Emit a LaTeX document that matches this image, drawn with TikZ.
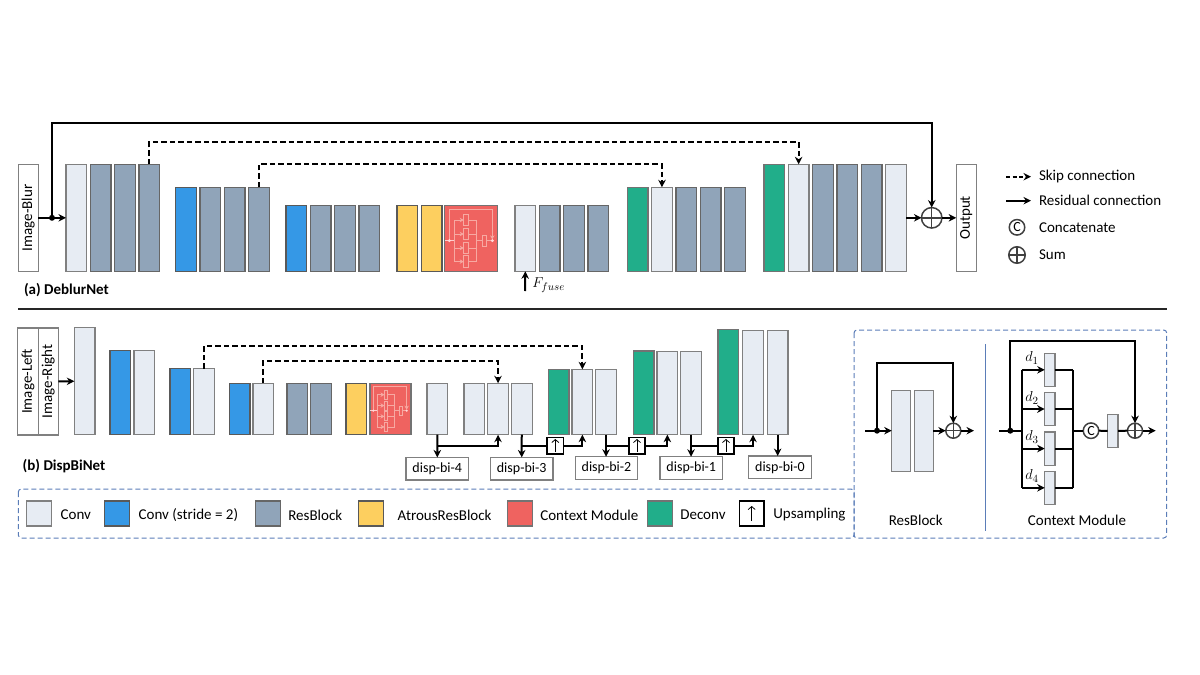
\documentclass[tikz,border=0pt]{standalone}
\usepackage{amsmath}
\usepackage{fontspec}
\setmainfont{Carlito}
\usetikzlibrary{positioning, arrows.meta}

\definecolor{convfill}{HTML}{E7ECF3}
\definecolor{convline}{HTML}{808080}
\definecolor{bluefill}{HTML}{3598E6}
\definecolor{resfill}{HTML}{90A4B9}
\definecolor{yellowfill}{HTML}{FDCF5F}
\definecolor{redfill}{HTML}{EF6360}
\definecolor{greenfill}{HTML}{21AE8A}
\definecolor{panelline}{HTML}{5B7DB8}
\definecolor{minline}{HTML}{F7A9A2}

% small drawing of the context module, inside the red blocks
\newcommand{\ctxsketch}{
\draw[minline,line width=.7pt,-{Stealth[length=4pt,width=4.5pt]}] (4.3,35.3) -- (4.3,4.3) -- (47.3,4.3) -- (47.3,34);
\draw[white!80!red,line width=1pt] (0,35.3) -- (9,35.3);
\draw[minline,line width=.7pt] (9,14.7) -- (9,56.3);
\draw[minline,line width=.7pt,-{Stealth[length=4pt,width=4.5pt]}] (9,14.7) -- (18.7,14.7);
\draw[minline,line width=.7pt,-{Stealth[length=4pt,width=4.5pt]}] (9,28.7) -- (18.7,28.7);
\draw[minline,line width=.7pt,-{Stealth[length=4pt,width=4.5pt]}] (9,42.7) -- (18.7,42.7);
\draw[minline,line width=.7pt,-{Stealth[length=4pt,width=4.5pt]}] (9,56.3) -- (18.7,56.3);
\draw[minline,line width=.7pt] (18.7,8.7) rectangle (23,20.3);
\draw[minline,line width=.7pt] (18.7,22.7) rectangle (23,34.3);
\draw[minline,line width=.7pt] (18.7,36.7) rectangle (23,48.3);
\draw[minline,line width=.7pt] (18.7,50.3) rectangle (23,62);
\draw[minline,line width=.7pt] (23,14.7) -- (31.7,14.7) -- (31.7,56.3) -- (23,56.3);
\draw[minline,line width=.7pt] (23,28.7) -- (31.7,28.7);
\draw[minline,line width=.7pt] (23,42.7) -- (31.7,42.7);
\draw[minline,line width=.7pt] (31.7,35.3) -- (37.3,35.3);
\draw[minline,line width=.7pt] (37.3,30) rectangle (41.3,41.3);
\draw[minline,line width=.7pt] (41.3,35.3) -- (47.3,35.3);
\fill[white!85!red] (4.3,35.3) circle (1.6);
\fill[white!85!red] (47.3,35.3) circle (1.6);
}

\begin{document}
\begin{tikzpicture}[x=1pt, y=-1pt, >={Stealth[length=7.5pt,width=7.5pt]}, node distance=3.6pt]
\tikzstyle{every node}=[font=\fontsize{15}{17}\selectfont, outer sep=0pt]
\tikzstyle{block}=[draw=convline, line width=1.2pt, anchor=south west, minimum width=20.7pt, inner sep=0pt]
\tikzstyle{conv}=[block, fill=convfill]
\tikzstyle{bluec}=[block, fill=bluefill, draw=black!65]
\tikzstyle{resb}=[block, fill=resfill, draw=black!60]
\tikzstyle{yell}=[block, fill=yellowfill, draw=black!65]
\tikzstyle{ctxm}=[block, fill=redfill, draw=black!55]
\tikzstyle{gree}=[block, fill=greenfill, draw=black!55]
\tikzstyle{swatch}=[minimum width=25pt, minimum height=25pt]
\tikzstyle{inbox}=[draw=convline, line width=1.2pt, rotate=90, minimum height=20.3pt, minimum width=107pt, inner sep=0pt]
\tikzstyle{disp}=[draw=convline, line width=1.2pt, minimum width=62.5pt, minimum height=22.6pt, inner sep=0pt, font=\fontsize{14}{16}\selectfont]
\tikzstyle{upbox}=[draw=black, fill=white, line width=1.6pt, minimum size=16.5pt, inner sep=0pt]
\tikzstyle{upmark}=[-{Straight Barb[length=3pt,width=7pt]}, line width=.8pt]
\tikzstyle{sumop}=[circle, draw=black!75, line width=1.5pt, minimum size=20.5pt, inner sep=0pt, path picture={\draw[black!75, line width=1.5pt] (path picture bounding box.north) -- (path picture bounding box.south) (path picture bounding box.west) -- (path picture bounding box.east);}]
\tikzstyle{catop}=[circle, draw=black!75, line width=1.5pt, minimum size=15.5pt, inner sep=0pt, font=\fontsize{14}{16}\selectfont]
\tikzstyle{joint}=[circle, fill=black, minimum size=6pt, inner sep=0pt]
\tikzstyle{wire}=[line width=2pt]
\tikzstyle{flow}=[->, line width=2pt]
\tikzstyle{skip}=[->, line width=2pt, dash pattern=on 5.5pt off 3pt]
\tikzstyle{panel}=[draw=panelline, line width=1pt, dash pattern=on 5pt off 3pt, rounded corners=3pt]
\tikzstyle{lab}=[anchor=west, inner sep=0pt]
\useasboundingbox (0,0) rectangle (1200,675);

% (a) top network
\node[inbox]    (blur) at (28.3,217.8)    {Image-Blur};
\node[conv,minimum height=107pt]    (a1) at (66,271.3)   {};
\node[resb,minimum height=107pt]    (a2)[right=of a1]    {};
\node[resb,minimum height=107pt]    (a3)[right=of a2]    {};
\node[resb,minimum height=107pt]    (a4)[right=of a3]    {};
\node[bluec,minimum height=84pt]    (b1) at (175.7,271.3){};
\node[resb,minimum height=84pt]     (b2)[right=of b1]    {};
\node[resb,minimum height=84pt]     (b3)[right=of b2]    {};
\node[resb,minimum height=84pt]     (b4)[right=of b3]    {};
\node[bluec,minimum height=66pt]    (c1) at (286,271.3)  {};
\node[resb,minimum height=66pt]     (c2)[right=of c1]    {};
\node[resb,minimum height=66pt]     (c3)[right=of c2]    {};
\node[resb,minimum height=66pt]     (c4)[right=of c3]    {};
\node[yell,minimum height=66pt]     (d1) at (397,271.3)  {};
\node[yell,minimum height=66pt]     (d2)[right=of d1]    {};
\node[ctxm,minimum height=66pt,minimum width=53pt] (d3)[right=2.6pt of d2] {};
\node[conv,minimum height=66pt]     (e1) at (515,271.3)  {};
\node[resb,minimum height=66pt]     (e2)[right=of e1]    {};
\node[resb,minimum height=66pt]     (e3)[right=of e2]    {};
\node[resb,minimum height=66pt]     (e4)[right=of e3]    {};
\node[gree,minimum height=84pt]     (f1) at (627.3,271.3){};
\node[conv,minimum height=84pt]     (f2)[right=of f1]    {};
\node[resb,minimum height=84pt]     (f3)[right=of f2]    {};
\node[resb,minimum height=84pt]     (f4)[right=of f3]    {};
\node[resb,minimum height=84pt]     (f5)[right=of f4]    {};
\node[gree,minimum height=107pt]    (g1) at (764,271.3)  {};
\node[conv,minimum height=107pt]    (g2)[right=of g1]    {};
\node[resb,minimum height=107pt]    (g3)[right=of g2]    {};
\node[resb,minimum height=107pt]    (g4)[right=of g3]    {};
\node[resb,minimum height=107pt]    (g5)[right=of g4]    {};
\node[conv,minimum height=107pt]    (g6)[right=of g5]    {};
\node[sumop]    (sumA) at (931.7,217.8)   {};
\node[inbox]    (out)  at (966.3,217.8)   {Output};
\node[joint]    (jA)   at (52,217.8)      {};
\begin{scope}[shift={(445,205.3)}]
\ctxsketch
\end{scope}
\node[lab,font=\bfseries\fontsize{15}{17}\selectfont] (capA) at (24,290) {(a) DeblurNet};
\node[lab] (fuse) at (532.3,285) {$F_{fuse}$};
\coordinate (fuseB) at (525,291);

\path
(blur) edge[flow]   (a1)
(g6)   edge[flow]   (sumA)
(sumA) edge[flow]   (out)
(fuseB) edge[flow]  (e1.south);
\draw[flow] (jA) -- ++(0,-94.5) -| (sumA);
\draw[skip] (a4.north) -- ++(0,-22) -| (g2.north);
\draw[skip] (b4.north) -- ++(0,-23) -| (f2.north);

% legend of the connectors
\coordinate (skA) at (1006,176.7);
\coordinate (skB) at (1031,176.7);
\coordinate (reA) at (1006,200.7);
\coordinate (reB) at (1031,200.7);
\node[lab] (skT) at (1039,176.7) {Skip connection};
\node[lab] (reT) at (1039,200.7) {Residual connection};
\node[catop] (lgC) at (1017,227.3) {C};
\node[lab] (caT) at (1039,228) {Concatenate};
\node[sumop,minimum size=16.5pt] (lgS) at (1017,255) {};
\node[lab] (suT) at (1039,255) {Sum};
\draw[skip,dash pattern=on 4pt off 2.5pt] (skA) -- (skB);
\draw[flow] (reA) -- (reB);

\draw[line width=1.2pt,black!85] (18,309) -- (1167,309);

% (b) lower network
\node[inbox]    (left)  at (28,381.4)     {Image-Left};
\node[inbox]    (right)[minimum height=20pt] at (48.3,381.4) {Image-Right};
\node[conv,minimum height=107pt]    (h1) at (74.3,434.7)  {};
\node[bluec,minimum height=84pt]    (i1) at (110,434.7)   {};
\node[conv,minimum height=84pt]     (i2)[right=3.3pt of i1]   {};
\node[bluec,minimum height=66pt]    (j1) at (170,434.7)   {};
\node[conv,minimum height=66pt]     (j2)[right=3pt of j1]     {};
\node[bluec,minimum height=51.4pt]  (k1) at (229.3,434.7) {};
\node[conv,minimum height=51.4pt]   (k2)[right=3pt of k1]     {};
\node[resb,minimum height=51.4pt]   (l1) at (287,434.7)   {};
\node[resb,minimum height=51.4pt]   (l2)[right=3pt of l1]     {};
\node[yell,minimum height=51.4pt]   (m1) at (346,434.7)   {};
\node[ctxm,minimum height=51.4pt,minimum width=41pt] (m2)[right=3.3pt of m1] {};
\node[conv,minimum height=51.4pt]   (r4) at (427,434.7)   {};
\node[conv,minimum height=51.4pt]   (n1) at (464,434.7)   {};
\node[conv,minimum height=51.4pt]   (n2)[right=3pt of n1]     {};
\node[conv,minimum height=51.4pt]   (r3)[right=3pt of n2]     {};
\node[gree,minimum height=65.4pt]   (o1) at (548.3,434.7) {};
\node[conv,minimum height=65.4pt]   (o2)[right=3pt of o1]     {};
\node[conv,minimum height=65.4pt]   (r2)[right=3pt of o2]     {};
\node[gree,minimum height=83.7pt]   (p1) at (633.3,434.7) {};
\node[conv,minimum height=83pt]     (p2) at (657,434.7) {};
\node[conv,minimum height=83pt]     (r1) at (680.7,434.7) {};
\node[gree,minimum height=105.4pt]  (q1) at (718,434.7)   {};
\node[conv,minimum height=104.4pt]  (q2) at (742.7,434.7) {};
\node[conv,minimum height=104.4pt]  (r0) at (767.3,434.7) {};
\begin{scope}[shift={(370,383.3)},scale=.775]
\ctxsketch
\end{scope}
\node[lab,font=\bfseries\fontsize{15}{17}\selectfont] (capB) at (22.7,466) {(b) DispBiNet};

\node[disp] (t4) at (437.3,468.7) {disp-bi-4};
\node[disp] (t3) at (521.7,468.7) {disp-bi-3};
\node[disp] (t2) at (606.5,468) {disp-bi-2};
\node[disp] (t1) at (691.3,468) {disp-bi-1};
\node[disp] (t0) at (780,467.3) {disp-bi-0};
\node[upbox] (up3) at (555.3,445.7) {};
\node[upbox] (up2) at (637,445.7) {};
\node[upbox] (up1) at (726,445.7) {};
\coordinate (up3a) at (555.3,452);
\coordinate (up3b) at (555.3,439);
\coordinate (up2a) at (637,452);
\coordinate (up2b) at (637,439);
\coordinate (up1a) at (726,452);
\coordinate (up1b) at (726,439);
\draw[upmark] (up3a) -- (up3b);
\draw[upmark] (up2a) -- (up2b);
\draw[upmark] (up1a) -- (up1b);

\path (right) edge[flow] (h1);
\draw[flow] (r4.south) -- (t4.north);
\draw[flow] (r3.south) -- (t3.north);
\draw[flow] (r2.south) -- (r2.south |- t2.north);
\draw[flow] (r1.south) -- (r1.south |- t1.north);
\draw[flow] (r0.south) -- (r0.south |- t0.north);
\draw[flow] (up3 -| r4.south) -| (n2.south);
\draw[wire] (up3 -| r3.south) -- (up3);
\draw[flow] (up3) -| (o2.south);
\draw[wire] (up2 -| r2.south) -- (up2);
\draw[flow] (up2) -| (p2.south);
\draw[wire] (up1 -| r1.south) -- (up1);
\draw[flow] (up1) -| (q2.south);
\draw[skip] (j2.north) -- ++(0,-22.7) -| (o2.north);
\draw[skip] (k2.north) -- ++(0,-22) -| (n2.north);

% legend of the blocks
\draw[panel] (18.3,489) rectangle (854,538);
\node[conv,swatch] (lg1) at (26.7,526) {};
\node[lab] (lt1) at (60.7,515) {Conv};
\node[bluec,swatch] (lg2) at (104.5,526) {};
\node[lab] (lt2) at (138.7,515) {Conv (stride = 2)};
\node[resb,swatch] (lg3) at (255.3,526) {};
\node[lab] (lt3) at (288.3,515) {ResBlock};
\node[yell,swatch] (lg4) at (358.3,526) {};
\node[lab] (lt4) at (397.7,515) {AtrousResBlock};
\node[ctxm,swatch] (lg5) at (507.3,526) {};
\node[lab] (lt5) at (540.3,515) {Context Module};
\node[gree,swatch] (lg6) at (647.3,526) {};
\node[lab] (lt6) at (680.3,515) {Deconv};
\node[upbox,minimum size=24.5pt,line width=1.8pt] (lg7) at (751.7,513.5) {};
\coordinate (lg7a) at (751.7,521);
\coordinate (lg7b) at (751.7,506);
\draw[upmark] (lg7a) -- (lg7b);
\node[lab] (lt7) at (773.3,515) {Upsampling};

% panel with the two modules
\draw[panel] (854,330) rectangle (1166.7,538);
\draw[panelline,line width=.8pt] (985.3,344) -- (985.3,530.7);

\node[conv,minimum width=19pt,minimum height=81pt] (s1) at (891.7,471.3) {};
\node[conv,minimum width=19pt,minimum height=81pt] (s2)[right=3.6pt of s1] {};
\node[sumop,minimum size=15pt] (sumR) at (953.3,430.7) {};
\node[joint] (jR) at (877,430.7) {};
\coordinate (inR) at (865,430.7);
\coordinate (outR) at (974,430.7);
\node (labR) at (915.7,520) {ResBlock};
\draw[flow] (inR) -- (inR -| s1.west);
\draw[flow] (s2.east |- sumR) -- (sumR);
\draw[flow] (sumR) -- (outR);
\draw[flow] (jR) -- ++(0,-67.4) -| (sumR);

\node[conv,minimum width=10.3pt,minimum height=33pt] (v1) at (1044.7,386.3) {};
\node[conv,minimum width=10.3pt,minimum height=33.4pt] (v2) at (1044.7,425.7) {};
\node[conv,minimum width=10.3pt,minimum height=33.4pt] (v3) at (1044.7,465.3) {};
\node[conv,minimum width=10.3pt,minimum height=33pt] (v4) at (1044.7,504.3) {};
\node[conv,minimum width=10.3pt,minimum height=33pt] (v5) at (1107.7,447.3) {};
\node[catop] (catC) at (1091,430.7) {C};
\node[sumop,minimum size=15pt] (sumC) at (1135,430.7) {};
\node[joint] (jC) at (1010.3,430.7) {};
\coordinate (inC)  at (999,430.7);
\coordinate (outC) at (1155.7,430.7);
\coordinate (busA) at (1021.7,430.7);
\coordinate (busB) at (1072.7,430.7);
\node (labC) at (1077,520) {Context Module};
\node (dl1) at (1032,358) {$d_1$};
\node (dl2) at (1032,398) {$d_2$};
\node (dl3) at (1032,437) {$d_3$};
\node (dl4) at (1032,476) {$d_4$};
\draw[wire] (inC) -- (busA);
\draw[wire] (busA |- v1) -- (busA |- v4);
\draw[wire] (busB |- v1) -- (busB |- v4);
\draw[flow] (busA |- v1) -- (v1);
\draw[flow] (busA |- v2) -- (v2);
\draw[flow] (busA |- v3) -- (v3);
\draw[flow] (busA |- v4) -- (v4);
\draw[wire] (v1) -- (busB |- v1);
\draw[wire] (v2) -- (busB |- v2);
\draw[wire] (v3) -- (busB |- v3);
\draw[wire] (v4) -- (busB |- v4);
\draw[wire] (busB) -- (catC);
\draw[wire] (catC) -- (v5);
\draw[wire] (v5) -- (sumC);
\draw[flow] (sumC) -- (outC);
\draw[flow] (jC) -- ++(0,-89.7) -| (sumC);
\end{tikzpicture}
\end{document}
